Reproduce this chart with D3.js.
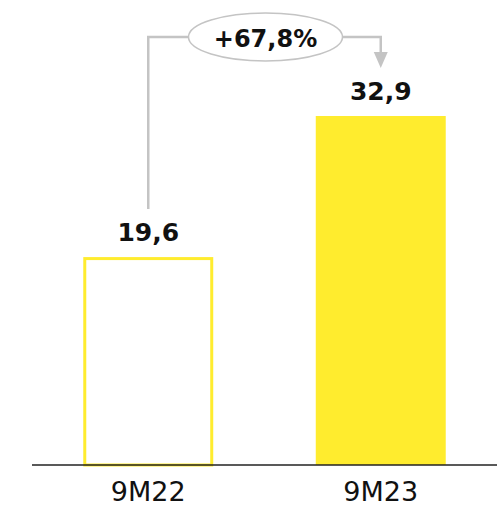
<!DOCTYPE html>
<html><head><meta charset="utf-8">
<script src="https://cdn.jsdelivr.net/npm/d3@7"></script>
<style>body{margin:0;background:#fff}svg{display:block}</style>
</head><body>
<script>
const categories = ["9M22", "9M23"];
const values = [19.6, 32.9];
const valueLabels = ["19,6", "32,9"];
const changeLabel = "+67,8%";

const W = 502, H = 508;
const svg = d3.select("body").append("svg").attr("width", W).attr("height", H);
const font = "'DejaVu Sans', sans-serif";
const yellow = "#FFEC2E";
const gray = "#C4C4C4";

const x = d3.scaleBand().domain(categories).range([32, 497]).paddingInner(0.441).paddingOuter(0.2205);
const y = d3.scaleLinear().domain([0, 32.9]).range([465, 116]);

// bars
categories.forEach((c, i) => {
  const bx = x(c), bw = x.bandwidth();
  if (i === 0) {
    svg.append("rect").attr("x", bx + 1.5).attr("y", y(values[i]) + 1.5)
      .attr("width", bw - 3).attr("height", y(0) - y(values[i]) - 1.5)
      .attr("fill", "none").attr("stroke", yellow).attr("stroke-width", 3);
  } else {
    svg.append("rect").attr("x", bx).attr("y", y(values[i]))
      .attr("width", bw).attr("height", y(0) - y(values[i])).attr("fill", yellow);
  }
  svg.append("text").attr("x", bx + bw / 2).attr("y", y(values[i]) - 16)
    .attr("text-anchor", "middle").attr("font-family", font).attr("font-weight", "bold")
    .attr("font-size", 25).attr("fill", "#111").text(valueLabels[i]);
});

// axis
const axis = svg.append("g").attr("transform", `translate(0,${y(0)})`)
  .call(d3.axisBottom(x).tickSize(0).tickPadding(17));
axis.select(".domain").attr("stroke", "#222").attr("stroke-width", 1.5).attr("d", "M32,0H497");
axis.selectAll("text").attr("font-family", font).attr("font-size", 27).attr("fill", "#111");

// annotation
const x1 = x(categories[0]) + x.bandwidth() / 2;
const x2 = x(categories[1]) + x.bandwidth() / 2;
const yTop = 37, cx = 265.5;
const g = svg.append("g");
g.append("path").attr("d", `M${x1},${y(values[0]) - 48}V${yTop}H${cx}`)
  .attr("fill", "none").attr("stroke", gray).attr("stroke-width", 2.5);
g.append("path").attr("d", `M${cx},${yTop}H${x2}V${53}`)
  .attr("fill", "none").attr("stroke", gray).attr("stroke-width", 2.5);
g.append("path").attr("d", `M${x2 - 7},52L${x2 + 7},52L${x2},68Z`).attr("fill", gray);
g.append("ellipse").attr("cx", cx).attr("cy", yTop).attr("rx", 77).attr("ry", 24)
  .attr("fill", "#fff").attr("stroke", gray).attr("stroke-width", 1.5);
g.append("text").attr("x", cx).attr("y", yTop + 10).attr("text-anchor", "middle")
  .attr("font-family", font).attr("font-weight", "bold").attr("font-size", 24)
  .attr("fill", "#111").text(changeLabel);
</script>
</body></html>
